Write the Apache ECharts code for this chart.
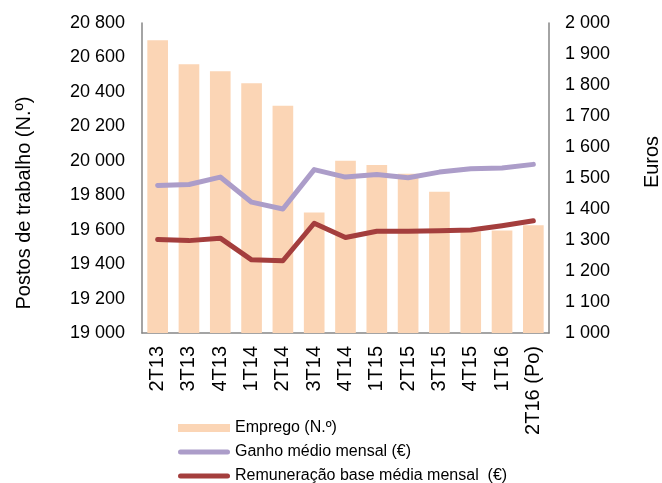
<!DOCTYPE html>
<html>
<head>
<meta charset="utf-8">
<script src="https://cdn.jsdelivr.net/npm/echarts@6/dist/echarts.min.js"></script>
<style>
  html, body { margin: 0; padding: 0; background: #fff; }
  #chart { width: 662px; height: 483px; }
</style>
</head>
<body>
<div id="chart"></div>
<script>
// Quarterly data
const quarters = ['2T13', '3T13', '4T13', '1T14', '2T14', '3T14', '4T14', '1T15', '2T15', '3T15', '4T15', '1T16', '2T16 (Po)'];
const emprego = [20700, 20560, 20520, 20450, 20320, 19700, 20000, 19975, 19925, 19820, 19590, 19595, 19625];
const ganhoMedio = [1476, 1479, 1503, 1422, 1400, 1527, 1503, 1511, 1501, 1519, 1530, 1532, 1544];
const remuneracaoBase = [1302, 1298, 1306, 1236, 1233, 1354, 1308, 1328, 1328, 1330, 1332, 1346, 1362];

const seriesNames = ['Emprego (N.º)', 'Ganho médio mensal (€)', 'Remuneração base média mensal  (€)'];

const FONT = '"Liberation Sans", Arial, sans-serif';
const AXIS_COLOR = '#868686';

// legend key for the line series: a thick stroke with rounded ends
const LINE_ICON = 'path://M2.5,0 H49.5 A2.5,2.5 0 0 1 49.5,5 H2.5 A2.5,2.5 0 0 1 2.5,0 Z';

// thousands separated by a space: 20 800, 1 900
const fmt = v => String(v).replace(/\B(?=(\d{3})+(?!\d))/g, ' ');

const chart = echarts.init(document.getElementById('chart'), null, { renderer: 'canvas' });

chart.setOption({
  animation: false,
  textStyle: { fontFamily: FONT, color: '#000' },
  grid: { left: 142, right: 113, top: 23, bottom: 150, containLabel: false },
  // right-hand axis title, set close to the page edge
  graphic: [{
    type: 'text',
    x: 652,
    y: 162,
    rotation: Math.PI / 2,
    style: {
      text: 'Euros',
      font: '20px ' + FONT,
      fill: '#000',
      align: 'center',
      verticalAlign: 'middle'
    }
  }],
  legend: {
    orient: 'vertical',
    left: 178,
    top: 420,
    height: 80,
    padding: 0,
    itemWidth: 52,
    itemHeight: 8,
    itemGap: 8,
    symbolKeepAspect: true,
    textStyle: { fontFamily: FONT, fontSize: 16, color: '#000' },
    data: [
      { name: seriesNames[0], icon: 'rect' },
      { name: seriesNames[1], icon: LINE_ICON },
      { name: seriesNames[2], icon: LINE_ICON }
    ]
  },
  xAxis: {
    type: 'category',
    data: quarters,
    axisLine: { lineStyle: { color: AXIS_COLOR, width: 1.5 } },
    axisTick: { show: false },
    axisLabel: { rotate: 90, fontSize: 20, color: '#000', margin: 13, interval: 0, fontFamily: FONT }
  },
  yAxis: [
    {
      type: 'value',
      min: 19000, max: 20800, interval: 200,
      name: 'Postos de trabalho (N.º)',
      nameLocation: 'middle',
      nameGap: 108,
      nameTextStyle: { fontSize: 20, color: '#000', fontFamily: FONT, padding: [0, 50, 0, 0] },
      axisLine: { show: true, lineStyle: { color: AXIS_COLOR, width: 1.5 } },
      axisTick: { show: false },
      splitLine: { show: false },
      axisLabel: { fontSize: 18, color: '#000', margin: 17, formatter: fmt, fontFamily: FONT }
    },
    {
      type: 'value',
      position: 'right',
      min: 1000, max: 2000, interval: 100,
      axisLine: { show: true, lineStyle: { color: AXIS_COLOR, width: 1.5 } },
      axisTick: { show: false },
      splitLine: { show: false },
      axisLabel: { fontSize: 18, color: '#000', margin: 16, formatter: fmt, fontFamily: FONT }
    }
  ],
  series: [
    {
      name: seriesNames[0],
      type: 'bar',
      yAxisIndex: 0,
      data: emprego,
      barCategoryGap: '34%',
      itemStyle: { color: '#FBD5B5' }
    },
    {
      name: seriesNames[1],
      type: 'line',
      yAxisIndex: 1,
      data: ganhoMedio,
      symbol: 'none',
      lineStyle: { color: '#AC9DC9', width: 5, cap: 'round', join: 'round' },
      itemStyle: { color: '#AC9DC9' }
    },
    {
      name: seriesNames[2],
      type: 'line',
      yAxisIndex: 1,
      data: remuneracaoBase,
      symbol: 'none',
      lineStyle: { color: '#A43E3D', width: 5, cap: 'round', join: 'round' },
      itemStyle: { color: '#A43E3D' }
    }
  ]
});
</script>
</body>
</html>
